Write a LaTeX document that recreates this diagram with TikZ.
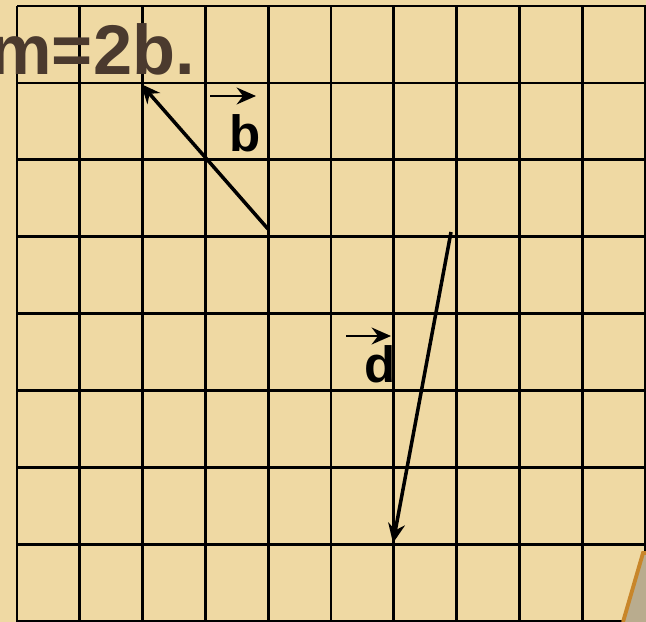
\documentclass[tikz,border=0pt]{standalone}
\usepackage{fontspec}
\setmainfont{Liberation Sans}
\usetikzlibrary{arrows.meta}
\definecolor{paper}{RGB}{239,217,163}
\definecolor{ink}{RGB}{75,58,46}
\definecolor{rim}{RGB}{200,134,42}
\definecolor{cornergray}{RGB}{185,172,142}
\begin{document}
\begin{tikzpicture}[>={Stealth[length=5.5pt,width=4.8pt,inset=1.8pt]},x=0.01cm,y=-0.01cm,line width=0.75pt,font=\bfseries]
  \useasboundingbox (0,0) rectangle (646,622);
  \fill[paper] (0,0) rectangle (646,622);

  % 网格
  \foreach \i in {0,...,10}
    \draw (17+62.8*\i,6) -- (17+62.8*\i,622);
  \foreach \j in {0,...,8}
    \draw (17,6+76.9*\j) -- (646,6+76.9*\j);

  % 右下角的纸边
  \fill[cornergray] (623,622) -- (643,553) -- (646,553) -- (646,622) -- cycle;
  \draw[rim,line width=1.1pt] (623,622) -- (643,553) -- (646,553);

  % 标题
  \node[anchor=base east,inner sep=0pt,text=ink,font=\bfseries\fontsize{20}{24}\selectfont] (eq) at (196,75) {m=2b.};

  % 向量 b
  \coordinate (B1) at (268,229);
  \coordinate (B2) at (141,84);
  \draw[->,line width=1pt] (B1) -- (B2);
  \coordinate (bl) at (210,96);
  \coordinate (br) at (256,96);
  \draw[->,line width=0.65pt] (bl) -- (br);
  \node[anchor=base west,inner sep=0pt,font=\bfseries\fontsize{14.5}{17}\selectfont] (lb) at (228,152) {b};

  % 向量 d
  \coordinate (D1) at (451,232);
  \coordinate (D2) at (393,543);
  \draw[->,line width=1pt] (D1) -- (D2);
  \coordinate (dl) at (346,336);
  \coordinate (dr) at (391,336);
  \draw[->,line width=0.65pt] (dl) -- (dr);
  \node[anchor=base west,inner sep=0pt,font=\bfseries\fontsize{14.5}{17}\selectfont] (ld) at (363,383) {d};
\end{tikzpicture}
\end{document}
